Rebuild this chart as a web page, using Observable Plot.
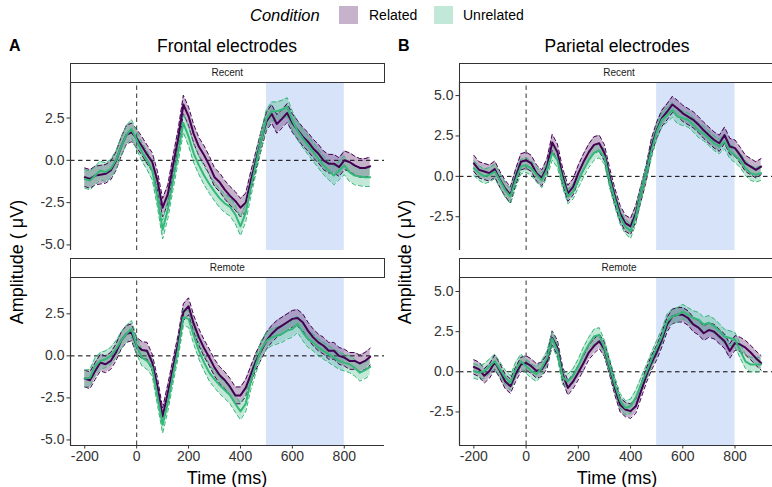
<!DOCTYPE html>
<html><head><meta charset="utf-8">
<script src="https://cdn.jsdelivr.net/npm/d3@7"></script>
<script src="https://cdn.jsdelivr.net/npm/@observablehq/plot@0.6"></script>
<style>
body{margin:0;background:#fff;font-family:"Liberation Sans",Arial,sans-serif;}
#fig{position:relative;width:772px;height:487px;overflow:hidden;background:#fff;}
.t{position:absolute;white-space:nowrap;color:#000;}
.strip{position:absolute;box-sizing:border-box;border:1.5px solid #333;background:#fff;font-size:10px;text-align:center;line-height:17px;color:#1a1a1a;}
.sw{position:absolute;width:19px;height:18px;}
</style>
</head><body><div id="fig"></div>
<script>
// ---- data ----
const conditions = ["Related", "Unrelated"];
const lineColors = ["#440154", "#35b779"];
const times = d3.range(-200, 901, 20); // ms sample points
const xTicks = [-200, 0, 200, 400, 600, 800];
const windowMs = [500, 800];
const frontalTicks = [-5, -2.5, 0, 2.5];
const parietalTicks = [-2.5, 0, 2.5, 5];

// Frontal / Recent
const frontalRecentRelated = [
 -1.0,-1.1,-0.9,-0.85,-0.8,-0.6,-0.05,0.8,1.5,1.65,
 1.3,0.85,0.35,-0.1,-1.2,-2.8,-2.0,-0.3,1.3,3.3,
 2.6,1.55,0.8,0.3,-0.3,-1.0,-1.3,-1.75,-2.1,-2.4,
 -2.8,-2.5,-1.2,0.0,1.2,2.3,2.75,2.15,2.45,2.8,
 2.2,1.8,1.4,1.1,0.7,0.4,0.0,-0.2,-0.2,-0.4,
 0.0,-0.1,-0.3,-0.45,-0.45,-0.35];
const frontalRecentUnrelated = [
 -1.1,-1.2,-0.9,-0.6,-0.7,-0.5,0.0,0.8,1.5,1.85,
 1.2,0.5,0.0,-0.6,-2.2,-4.1,-2.9,-1.2,0.45,2.2,
 1.4,0.4,-0.3,-0.9,-1.4,-1.85,-2.25,-2.55,-2.75,-3.2,
 -3.9,-3.1,-1.6,-0.2,1.2,2.45,2.9,2.9,3.0,3.15,
 2.35,1.75,1.3,0.9,0.5,0.1,-0.3,-0.6,-0.9,-0.6,
 -0.3,-0.7,-0.9,-0.95,-1.0,-1.0];
// Frontal / Remote
const frontalRemoteRelated = [
 -1.35,-1.45,-0.9,-0.4,-0.5,-0.3,0.2,0.9,1.3,1.4,
 0.6,0.35,0.3,-0.4,-1.8,-3.6,-2.2,-0.7,0.75,2.6,
 2.95,1.9,1.1,0.45,-0.1,-0.7,-1.15,-1.45,-1.85,-2.35,
 -2.35,-1.9,-1.1,-0.3,0.3,0.9,1.3,1.6,1.8,2.0,
 2.2,2.25,2.0,1.5,1.1,0.8,0.6,0.3,0.3,0.0,
 -0.1,-0.3,-0.3,-0.45,-0.3,-0.05];
const frontalRemoteUnrelated = [
 -1.35,-1.3,-0.6,-0.3,-0.2,0.0,0.4,0.9,1.3,1.6,
 0.6,-0.1,-0.3,-0.7,-2.4,-4.1,-2.8,-1.15,0.4,2.3,
 2.2,1.2,0.3,-0.4,-1.0,-1.4,-1.75,-2.05,-2.35,-2.85,
 -3.3,-2.85,-1.5,-0.5,0.4,0.9,1.1,1.2,1.3,1.5,
 1.6,1.9,1.4,1.0,0.8,0.5,0.3,0.1,-0.1,-0.3,
 -0.4,-0.5,-0.7,-1.0,-0.85,-0.65];
// Parietal / Recent
const parietalRecentRelated = [
 0.8,0.4,0.3,0.2,0.45,-0.2,-0.75,-1.15,-0.05,0.9,
 1.0,0.8,0.2,-0.1,0.6,2.1,1.5,0.0,-1.05,-0.65,
 0.2,0.9,1.5,1.95,2.05,1.45,0.0,-1.25,-2.3,-2.9,
 -3.1,-2.3,-1.05,0.2,1.85,2.85,3.6,4.0,4.45,4.2,
 3.9,3.7,3.5,3.2,2.85,2.55,2.25,2.05,2.55,1.85,
 1.75,1.3,0.8,0.6,0.4,0.6];
const parietalRecentUnrelated = [
 0.5,0.2,0.0,0.1,0.3,-0.25,-0.85,-1.25,-0.25,0.6,
 0.7,0.5,0.1,-0.25,0.4,1.45,1.0,-0.25,-1.25,-0.95,
 -0.25,0.4,1.0,1.45,1.6,1.2,-0.25,-1.45,-2.5,-3.1,
 -3.4,-2.5,-1.05,0.2,1.6,2.75,3.5,3.8,4.1,3.7,
 3.6,3.5,3.2,2.85,2.65,2.35,2.05,1.85,2.15,1.55,
 1.3,1.0,0.5,0.2,0.1,0.2];
// Parietal / Remote
const parietalRemoteRelated = [
 0.3,0.15,-0.25,0.05,0.6,0.05,-0.6,-0.9,-0.15,0.45,
 0.55,0.35,0.05,0.15,0.65,2.1,1.5,-0.15,-1.0,-0.6,
 -0.05,0.55,1.2,1.6,1.9,1.4,0.25,-1.0,-2.05,-2.35,
 -2.45,-2.15,-1.2,-0.25,0.55,1.2,2.0,2.95,3.45,3.55,
 3.55,3.35,2.95,2.75,2.4,2.6,2.5,2.2,1.9,1.3,
 1.8,1.7,1.5,1.2,0.85,0.55];
const parietalRemoteUnrelated = [
 0.05,-0.05,0.05,0.35,0.65,0.15,-0.35,-0.7,0.15,0.65,
 0.35,0.05,-0.15,0.25,0.85,2.05,1.3,-0.35,-0.6,-0.25,
 0.35,1.1,1.7,2.2,2.3,1.5,0.35,-0.8,-1.8,-2.25,
 -2.15,-1.6,-0.8,-0.05,0.75,1.5,2.2,3.15,3.45,3.55,
 3.75,3.55,3.35,3.25,2.95,3.05,2.85,2.55,2.2,2.1,
 2.0,1.3,0.65,0.45,0.45,0.45];
// ribbon half-widths (SE) per condition [Related, Unrelated]
const seFrontalRecent = [0.55, 0.55];
const seFrontalRemote = [0.5, 0.5];
const seParietalRecent = [0.5, 0.45];
const seParietalRemote = [0.45, 0.45];

// ---- layout ----
const fig = document.getElementById("fig");
const FONT = "Liberation Sans, Arial, sans-serif";
const xDomain = [-255, 955];

function text(str, opts) {
  const d = document.createElement("div");
  d.className = "t";
  d.textContent = str;
  Object.assign(d.style, opts);
  fig.appendChild(d);
  return d;
}

function panel(cfg) {
  const rows = [];
  cfg.series.forEach((vals, k) => {
    const se = cfg.se[k];
    vals.forEach((v, i) => rows.push({t: times[i], cond: conditions[k], m: v, lo: v - se, hi: v + se}));
  });
  const [y0, y1] = cfg.yDomain;
  const win = [{a: windowMs[0], b: windowMs[1], c: y0, d: y1}];
  const marks = [
    Plot.rect(win, {x1: "a", x2: "b", y1: "c", y2: "d", fill: "#d6e3f8"}),
    Plot.ruleY([0], {stroke: "#000", strokeWidth: 1, strokeDasharray: "4.5,3.5"}),
    Plot.ruleX([0], {y1: y0, y2: y1, stroke: "#333", strokeWidth: 1, strokeDasharray: "4.5,3.5"}),
    Plot.areaY(rows, {x: "t", y1: "lo", y2: "hi", fill: "cond", fillOpacity: 0.3}),
    Plot.line(rows, {x: "t", y: "lo", stroke: "cond", strokeWidth: 1, strokeDasharray: "4,3"}),
    Plot.line(rows, {x: "t", y: "hi", stroke: "cond", strokeWidth: 1, strokeDasharray: "4,3"}),
    Plot.line(rows, {x: "t", y: "m", stroke: "cond", strokeWidth: 2}),
    Plot.ruleX([xDomain[0]], {y1: y0, y2: y1, stroke: "#333", strokeWidth: 1.2}),
    Plot.axisY({ticks: cfg.yTicks, tickSize: 3.5, tickPadding: 2.5, tickFormat: d => d.toFixed(1), label: null, fontSize: 14, fill: "#333", stroke: "#333"})
  ];
  if (cfg.showX) {
    marks.push(Plot.ruleY([y0], {x1: xDomain[0], x2: xDomain[1], stroke: "#333", strokeWidth: 1.2}));
    marks.push(Plot.axisX({ticks: xTicks, tickSize: 3.5, tickPadding: 2.5, tickFormat: d => String(d), label: null, fontSize: 14, fill: "#333", stroke: "#333"}));
  }
  const svg = Plot.plot({
    width: 390,
    height: cfg.showX ? 212 : 168,
    marginLeft: 70, marginRight: cfg.mr, marginTop: 0, marginBottom: cfg.showX ? 45 : 0,
    x: {domain: xDomain, axis: null},
    y: {domain: cfg.yDomain, axis: null},
    color: {domain: conditions, range: lineColors},
    style: {fontFamily: FONT, fontSize: "14px", color: "#333", background: "transparent", overflow: "visible"},
    marks
  });
  svg.style.position = "absolute";
  svg.style.left = cfg.left + "px";
  svg.style.top = cfg.top + "px";
  fig.appendChild(svg);
}

function strip(label, left, top, width) {
  const d = document.createElement("div");
  d.className = "strip";
  d.textContent = label;
  Object.assign(d.style, {left: left + "px", top: top + "px", width: width + "px", height: "20px"});
  fig.appendChild(d);
}

const frontalY = [-5.33, 4.6];
const parietalY = [-4.59, 5.81];

panel({series: [frontalRecentRelated, frontalRecentUnrelated], se: seFrontalRecent, yDomain: frontalY, yTicks: frontalTicks, showX: false, left: 0, top: 82, mr: 6});
panel({series: [frontalRemoteRelated, frontalRemoteUnrelated], se: seFrontalRemote, yDomain: frontalY, yTicks: frontalTicks, showX: true, left: 0, top: 278, mr: 6});
panel({series: [parietalRecentRelated, parietalRecentUnrelated], se: seParietalRecent, yDomain: parietalY, yTicks: parietalTicks, showX: false, left: 389, top: 82, mr: 4});
panel({series: [parietalRemoteRelated, parietalRemoteUnrelated], se: seParietalRemote, yDomain: parietalY, yTicks: parietalTicks, showX: true, left: 389, top: 278, mr: 4});

strip("Recent", 70, 62.5, 314.5);
strip("Remote", 70, 257.5, 314.5);
strip("Recent", 459, 62.5, 320);
strip("Remote", 459, 257.5, 320);

// titles
text("A", {left: "9px", top: "36px", fontSize: "16px", fontWeight: "bold", lineHeight: "20px"});
text("B", {left: "398px", top: "36px", fontSize: "16px", fontWeight: "bold", lineHeight: "20px"});
const t1 = text("Frontal electrodes", {left: "70px", width: "314px", textAlign: "center", top: "35px", fontSize: "17.5px", lineHeight: "22px"});
const t2 = text("Parietal electrodes", {left: "459px", width: "316px", textAlign: "center", top: "35px", fontSize: "17.5px", lineHeight: "22px"});

// axis titles
text("Time (ms)", {left: "70px", width: "314px", textAlign: "center", top: "467px", fontSize: "18px", lineHeight: "22px"});
text("Time (ms)", {left: "459px", width: "316px", textAlign: "center", top: "467px", fontSize: "18px", lineHeight: "22px"});
[17, 405].forEach(x => text("Amplitude ( \u03bcV)", {left: x + "px", top: "262px", fontSize: "18px", lineHeight: "22px", transform: "translate(-50%,-50%) rotate(-90deg)"}));

// legend
text("Condition", {left: "250px", top: "4px", fontSize: "16.5px", fontStyle: "italic", lineHeight: "22px"});
const sw1 = document.createElement("div"); sw1.className = "sw";
Object.assign(sw1.style, {left: "339px", top: "6px", background: "rgba(68,1,84,0.3)"}); fig.appendChild(sw1);
text(conditions[0], {left: "369px", top: "6px", fontSize: "14px", lineHeight: "18px"});
const sw2 = document.createElement("div"); sw2.className = "sw";
Object.assign(sw2.style, {left: "434px", top: "6px", background: "rgba(53,183,121,0.3)"}); fig.appendChild(sw2);
text(conditions[1], {left: "463px", top: "6px", fontSize: "14px", lineHeight: "18px"});
</script>
</body></html>
